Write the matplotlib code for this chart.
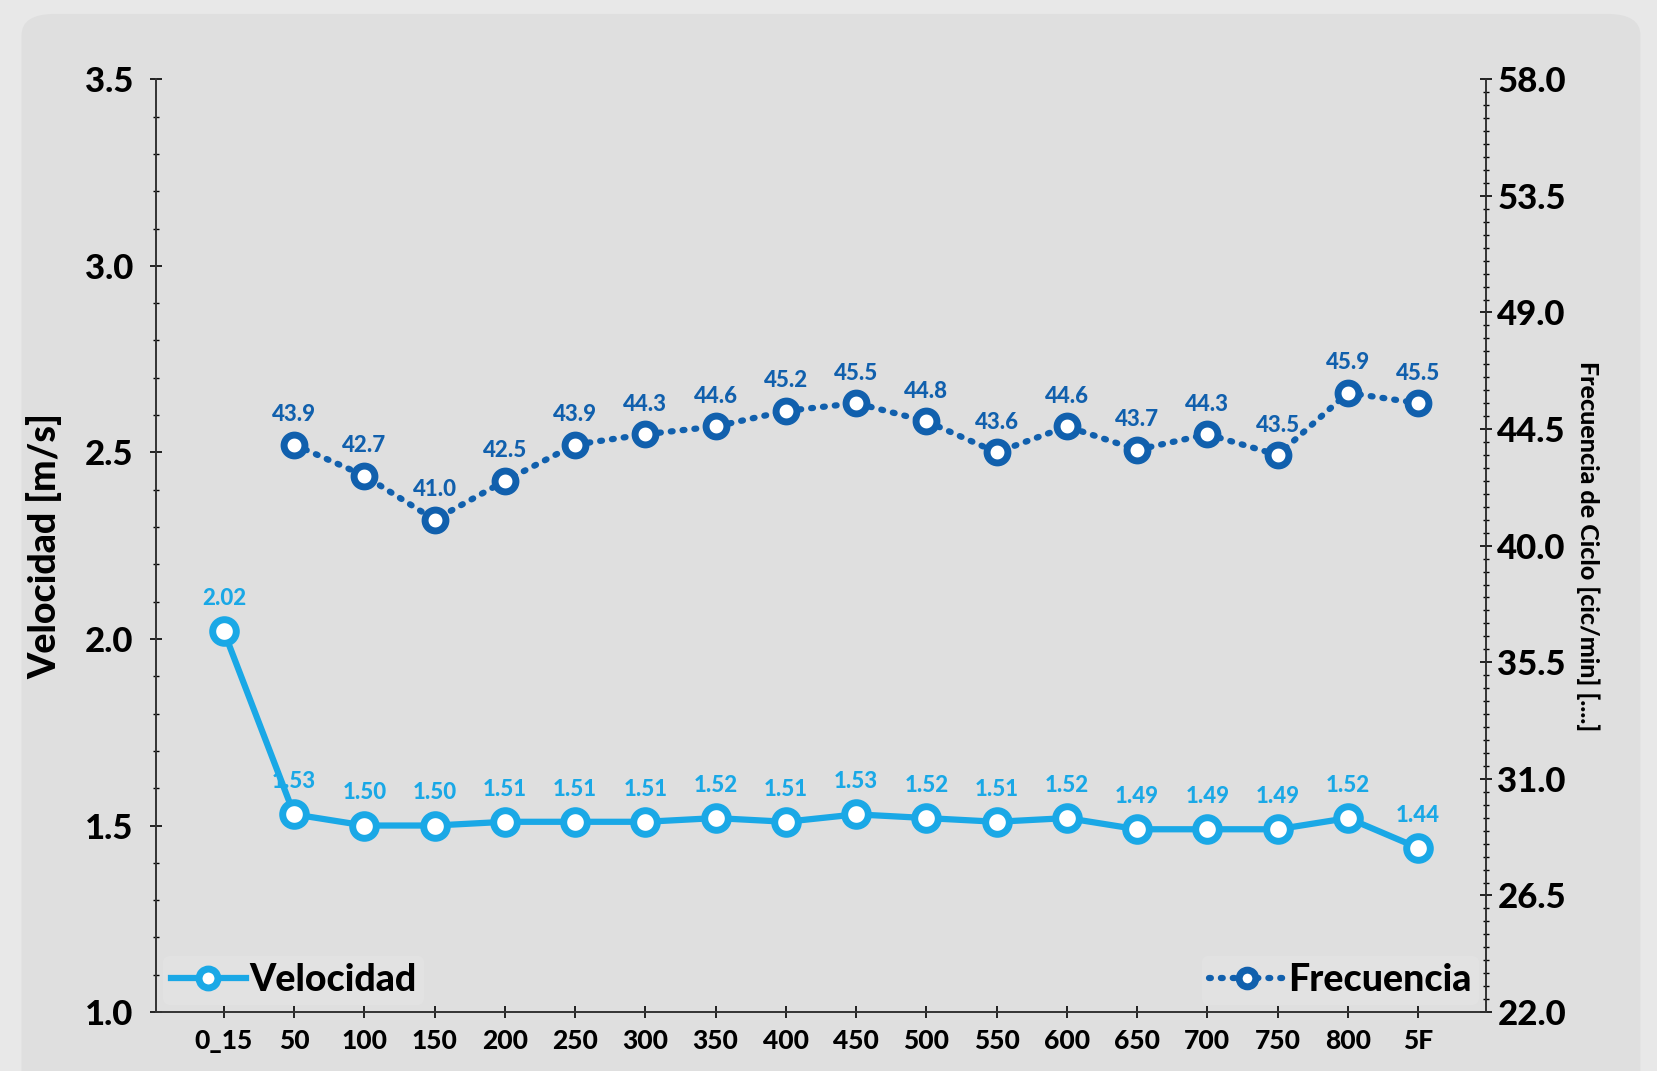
import numpy as np
import matplotlib.pyplot as plt
from matplotlib.patches import FancyBboxPatch
from matplotlib.ticker import MultipleLocator, FixedLocator

plt.rcParams['font.family'] = ['Lato', 'DejaVu Sans']
plt.rcParams['font.weight'] = 'black'

categorias = ["0_15", "50", "100", "150", "200", "250", "300", "350", "400",
              "450", "500", "550", "600", "650", "700", "750", "800", "5F"]
velocidad = [2.02, 1.53, 1.50, 1.50, 1.51, 1.51, 1.51, 1.52, 1.51,
             1.53, 1.52, 1.51, 1.52, 1.49, 1.49, 1.49, 1.52, 1.44]
frecuencia = [np.nan, 43.9, 42.7, 41.0, 42.5, 43.9, 44.3, 44.6, 45.2,
              45.5, 44.8, 43.6, 44.6, 43.7, 44.3, 43.5, 45.9, 45.5]
frec_ticks = [22.0, 26.5, 31.0, 35.5, 40.0, 44.5, 49.0, 53.5, 58.0]

c_vel = "#1aa8e6"
c_frec = "#1160ad"

fig = plt.figure(figsize=(16.57, 10.71), dpi=100)
fig.patch.set_facecolor("#e8e8e8")
panel = FancyBboxPatch((0.013, -0.05), 0.977, 1.037, transform=fig.transFigure,
                       boxstyle="round,pad=0,rounding_size=0.02",
                       facecolor="#dfdfdf", edgecolor="none", zorder=-5)
fig.patches.append(panel)

ax = fig.add_axes([0.094, 0.055, 0.803, 0.871])
ax.set_facecolor("none")
ax2 = ax.twinx()

x = np.arange(len(categorias))

# Velocidad
ax.plot(x, velocidad, color=c_vel, lw=4.5, marker="o", ms=17,
        mfc="white", mec=c_vel, mew=5, label="Velocidad", zorder=3)
for xi, v in zip(x, velocidad):
    ax.annotate(f"{v:.2f}", (xi, v), xytext=(0, 16), textcoords="offset points",
                ha="center", va="bottom", color=c_vel, fontsize=16, fontweight="black")

# Frecuencia
ax2.plot(x, frecuencia, color=c_frec, lw=4.5, ls=(0, (0.3, 1.6)),
         dash_capstyle="round", marker="o", ms=15, mfc="white", mec=c_frec,
         mew=5, label="Frecuencia", zorder=3)
for xi, f in zip(x, frecuencia):
    if np.isnan(f):
        continue
    ax2.annotate(f"{f:.1f}", (xi, f), xytext=(0, 14), textcoords="offset points",
                 ha="center", va="bottom", color=c_frec, fontsize=16, fontweight="black")

ax.set_xlim(-0.97, 17.97)
ax.set_ylim(1.0, 3.5)
ax2.set_ylim(22.0, 58.0)

ax.yaxis.set_major_locator(MultipleLocator(0.5))
ax.yaxis.set_minor_locator(MultipleLocator(0.1))
ax.yaxis.set_major_formatter(plt.FuncFormatter(lambda v, p: f"{v:.1f}"))
ax2.yaxis.set_major_locator(FixedLocator(frec_ticks))
ax2.yaxis.set_minor_locator(MultipleLocator(0.5))
ax2.yaxis.set_major_formatter(plt.FuncFormatter(lambda v, p: f"{v:.1f}"))

ax.set_xticks(x)
ax.set_xticklabels(categorias)

for s in ["top"]:
    ax.spines[s].set_visible(False)
    ax2.spines[s].set_visible(False)
for a in (ax, ax2):
    for s in a.spines.values():
        s.set_color("#333333")
        s.set_linewidth(1.2)

ax.tick_params(axis="y", which="major", direction="inout", length=8, width=1.2,
               labelsize=25, pad=12)
ax.tick_params(axis="y", which="minor", direction="inout", length=5, width=1)
ax.tick_params(axis="x", direction="inout", length=8, width=1.2, labelsize=19, pad=8)
ax2.tick_params(axis="y", which="major", direction="inout", length=8, width=1.2,
                labelsize=25, pad=4)
ax2.tick_params(axis="y", which="minor", direction="inout", length=5, width=1)

ax.set_ylabel("Velocidad [m/s]", fontsize=27, fontweight="black", labelpad=16)
ax2.set_ylabel("Frecuencia de Ciclo [cic/min] [....]", fontsize=18,
               fontweight="black", rotation=-90, labelpad=24)

leg1 = ax.legend(loc="lower left", fontsize=27, frameon=True, handlelength=2.0,
                 handletextpad=0.1, borderaxespad=0.2, borderpad=0.2, markerscale=0.8)
leg1.get_frame().set_facecolor("#e4e4e4")
leg1.get_frame().set_edgecolor("none")
leg2 = ax2.legend(loc="lower right", fontsize=27, frameon=True, handlelength=2.0,
                  handletextpad=0.1, borderaxespad=0.2, borderpad=0.2, markerscale=0.8)
leg2.get_frame().set_facecolor("#e4e4e4")
leg2.get_frame().set_edgecolor("none")

plt.savefig("out.png", dpi=100, facecolor=fig.get_facecolor())
